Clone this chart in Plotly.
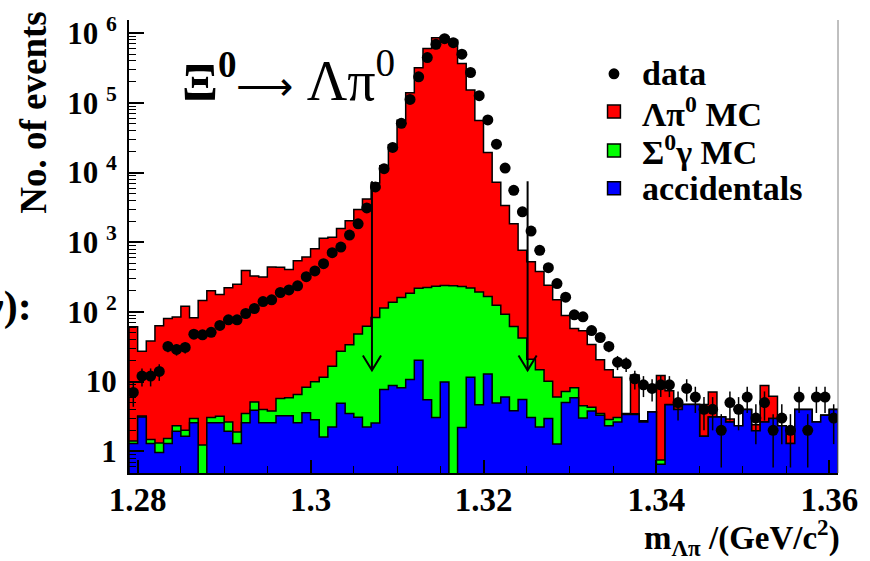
import numpy as np
import plotly.graph_objects as go

# ---- binning of the Lambda-pi invariant mass histogram -------------------
BIN_LOW = 1.279      # GeV/c^2
BIN_WIDTH = 0.001    # GeV/c^2
N_BINS = 82

# measured events per bin
data_counts = [7, 12, 12, 14, 32, 29, 31, 48, 47, 51,
               64, 77, 77, 95, 112, 141, 149, 190, 207, 237,
               321, 388, 493, 708, 854, 1268, 1837, 3110, 6210, 11370,
               22900, 50900, 112200, 236700, 447000, 693000, 834000, 731000, 500000, 272700,
               126700, 57000, 25500, 11600, 5570, 2730, 1445, 766, 432, 255,
               163, 91, 85, 54, 43, 32, 19, 18, 11, 9,
               8, 9, 9, 5, 8, 6, 4, 4, 2, 5,
               4, 6, 3, 5, 2, 3, 2, 6, 2, 6,
               6, 3]

# Xi0 -> Lambda pi0 signal Monte Carlo
lambda_pi0_mc = [60.1, 24.1, 36.9, 62.2, 79.2, 82.2, 119, 79.7, 144.8, 198,
                 174.8, 219.4, 248.1, 388.5, 323.9, 314, 439.2, 432.3, 399.1, 537.4,
                 606.7, 797, 1125, 1163, 1553, 1996, 2912, 4118, 6997, 12446,
                 24920, 56140, 139800, 317800, 600800, 862800, 882800, 791800, 366800, 152800,
                 55510, 19230, 7125, 3272, 1775, 723.6, 506, 364.2, 230.9, 143,
                 81.8, 49.8, 49, 29.7, 17.1, 11.9, 8.55, 0.08, 9.05, 0.09,
                 0, 11.45, 2.7, 0.43, 0, 0, 3.1, 4.0, 0, 0.26,
                 0, 0, 0.42, 6.16, 3.2, 0, 0.46, 0, 0, 0,
                 0, 0]

# Xi0 -> Sigma0 gamma background Monte Carlo
sigma0_gamma_mc = [0.11, 0.11, 0.18, 0.36, 0.23, 0.38, 0.36, 0.37, 1.23, 0.47,
                   0.60, 0.70, 0.60, 0.90, 1.22, 1.39, 1.21, 2.50, 2.64, 3.98,
                   4.75, 7.15, 9.99, 14.4, 22.4, 30.3, 45.2, 60.3, 80.9, 106.3,
                   129.2, 152.8, 175.3, 198.7, 218.5, 231, 229.1, 237, 228.8, 209.4,
                   188.4, 153.2, 120.1, 87, 58.2, 36.9, 17.95, 12.56, 7.15, 4.73,
                   2.2, 2.31, 1.5, 0.51, 0.21, 0.53, 0.41, 0.05, 0.08, 0.02,
                   0, 0.10, 0.05, 0, 0, 0, 0, 0, 0, 0,
                   0, 0, 0, 0, 0, 0, 0, 0, 0, 0,
                   0, 0]

# accidental background
accidentals = [1.30, 3.11, 1.30, 0.96, 1.30, 1.94, 1.65, 2.58, 0, 2.58,
               2.58, 1.94, 1.30, 2.58, 3.88, 2.58, 2.58, 3.25, 3.25, 2.58,
               3.59, 2.85, 1.61, 2.24, 4.88, 3.48, 3.08, 2.24, 2.55, 7.7,
               8.83, 8.18, 10.7, 20.3, 5.5, 3.05, 9.9, 0, 2.2, 11.6,
               4.65, 12.85, 4.93, 6.0, 3.83, 5.53, 3.05, 2.24, 2.95, 1.27,
               5.0, 5.89, 3.0, 3.79, 3.29, 2.33, 2.64, 3.37, 3.37, 2.64,
               3.67, 0.65, 4.65, 3.97, 4.7, 4.7, 1.65, 3.1, 3.1, 2.64,
               2.32, 3.97, 1.98, 2.64, 2.95, 2.32, 1.30, 3.97, 3.97, 2.64,
               3.29, 3.97]

# signal window cuts (GeV/c^2) and the vertical extent of the cut arrows
cut_positions = [1.3071, 1.3251]
arrow_top, arrow_tip = 7500, 14.5

y_tick_values = [1, 10, 100, 1e3, 1e4, 1e5, 1e6]
y_tick_labels = ["1", "10", "10 <sup>2</sup>", "10 <sup>3</sup>", "10 <sup>4</sup>",
                 "10 <sup>5</sup>", "10 <sup>6</sup>"]
x_tick_values = [1.28, 1.30, 1.32, 1.34, 1.36]
x_tick_labels = ["1.28", "1.3", "1.32", "1.34", "1.36"]

legend_labels = ["data", "Λπ<sup>0</sup> MC", "Σ<sup>0</sup>γ MC", "accidentals"]
RED, GREEN, BLUE = "#ff0000", "#00ff00", "#0000ff"

# ---- derived quantities --------------------------------------------------
edges = BIN_LOW + BIN_WIDTH * np.arange(N_BINS + 1)
centers = 0.5 * (edges[:-1] + edges[1:])
data = np.array(data_counts, float)
acc = np.array(accidentals, float)
stack_blue = acc
stack_green = stack_blue + np.array(sigma0_gamma_mc, float)
stack_red = stack_green + np.array(lambda_pi0_mc, float)

FLOOR = 1e-3  # well below the visible log range


def step_outline(values):
    v = np.where(values > 0, values, FLOOR)
    xs = np.repeat(edges, 2)[1:-1]
    ys = np.repeat(v, 2)
    xs = np.concatenate([[edges[0]], xs, [edges[-1]]])
    ys = np.concatenate([[FLOOR], ys, [FLOOR]])
    return xs, ys


W, H = 870, 561
ML, MR, MT, MB = 129.3, 24.8, 18, 88
PW, PH = W - ML - MR, H - MT - MB


def px(xpix):
    return (xpix - ML) / PW


def py(ypix):
    return (H - MB - ypix) / PH


FONT = "Liberation Serif"
fig = go.Figure()

# stacked histograms, drawn from the full sum down to the bottom component
for values, color in [(stack_red, RED), (stack_green, GREEN), (stack_blue, BLUE)]:
    xs, ys = step_outline(values)
    fig.add_trace(go.Scatter(x=xs, y=ys, mode="lines", fill="toself", fillcolor=color,
                             line=dict(color="black", width=1.5), hoverinfo="skip",
                             showlegend=False))

# cut arrows
head_dx = 0.00105
head_fac = 10 ** (15 / 70)
for xc in cut_positions:
    fig.add_trace(go.Scatter(
        x=[xc, xc, None, xc - head_dx, xc, xc + head_dx],
        y=[arrow_top, arrow_tip, None, arrow_tip * head_fac, arrow_tip, arrow_tip * head_fac],
        mode="lines", line=dict(color="black", width=2), hoverinfo="skip", showlegend=False))

# data points with Poisson errors
fig.add_trace(go.Scatter(x=centers, y=data, mode="markers",
                         marker=dict(color="black", size=11),
                         error_y=dict(type="data", array=np.sqrt(data), color="black",
                                      thickness=1.5, width=0),
                         showlegend=False))

minor_y = [m * 10.0 ** k for k in range(-1, 7) for m in range(2, 10)]

fig.update_layout(
    width=W, height=H,
    margin=dict(l=ML, r=MR, t=MT, b=MB, pad=0),
    paper_bgcolor="white", plot_bgcolor="white",
    font=dict(family=FONT, color="black"),
    showlegend=False,
    xaxis=dict(range=[BIN_LOW, BIN_LOW + N_BINS * BIN_WIDTH],
               tickmode="array", tickvals=x_tick_values,
               ticktext=[f"<b>{t}</b>" for t in x_tick_labels],
               tickfont=dict(size=33, family=FONT),
               ticks="inside", ticklen=13, tickwidth=1.5, tickcolor="black",
               ticklabelstandoff=-4,
               minor=dict(dtick=0.005, tick0=1.28, ticks="inside", ticklen=7,
                          tickwidth=1.2, tickcolor="black"),
               showline=True, linecolor="black", linewidth=2,
               showgrid=False, zeroline=False),
    yaxis=dict(type="log", range=[-0.311, 6.189],
               tickmode="array", tickvals=y_tick_values,
               ticktext=[f"<b>{t}</b>" for t in y_tick_labels],
               tickfont=dict(size=31, family=FONT),
               ticks="inside", ticklen=15, tickwidth=1.5, tickcolor="black",
               ticklabelstandoff=4,
               minor=dict(tickmode="array", tickvals=minor_y, ticks="inside", ticklen=7,
                          tickwidth=1.2, tickcolor="black"),
               showline=True, linecolor="black", linewidth=2,
               showgrid=False, zeroline=False),
)

# right-hand frame edge
fig.add_shape(type="line", xref="paper", yref="paper", x0=1, x1=1, y0=0, y1=1.0,
              line=dict(color="#808080", width=1))

title_text = ("<b>Ξ<sup>0</sup></b>"
              "<span style='font-size:40px'>⟶</span> "
              "<span style='font-size:56px'>Λπ<sup>0</sup></span>")

annotations = [
    dict(text=title_text, x=px(181), y=py(112),
         xanchor="left", yanchor="bottom", font=dict(size=53)),
    dict(text="<b>No. of events</b>", textangle=-90, x=px(32), y=py(8),
         xanchor="center", yanchor="top", font=dict(size=37)),
    dict(text="<b>m<sub>Λπ</sub> /(GeV/c<sup>2</sup>)</b>", x=px(849), y=py(538),
         xanchor="right", yanchor="middle", font=dict(size=33)),
    dict(text="<b>γ):</b>", x=px(33), y=py(306), xanchor="right", yanchor="middle",
         font=dict(size=42)),
]

# legend
legend_rows = [72, 110, 149, 187]
legend_colors = [None, RED, GREEN, BLUE]
sym_x = 619
for row, label, color in zip(legend_rows, legend_labels, legend_colors):
    annotations.append(dict(text=f"<b>{label}</b>", x=px(645), y=py(row),
                            xanchor="left", yanchor="middle", font=dict(size=34)))
    if color is None:
        r = 5.5
        fig.add_shape(type="circle", xref="paper", yref="paper",
                      x0=px(sym_x - r), x1=px(sym_x + r), y0=py(row + r), y1=py(row - r),
                      fillcolor="black", line=dict(color="black", width=0))
    else:
        h = 6.5
        fig.add_shape(type="rect", xref="paper", yref="paper",
                      x0=px(sym_x - h), x1=px(sym_x + h), y0=py(row + h), y1=py(row - h),
                      fillcolor=color, line=dict(color="black", width=1.5))

for a in annotations:
    a.update(xref="paper", yref="paper", showarrow=False)
    a["font"] = dict(family=FONT, color="black", **a.get("font", {}))
fig.update_layout(annotations=annotations)

fig.write_html("out.html")
